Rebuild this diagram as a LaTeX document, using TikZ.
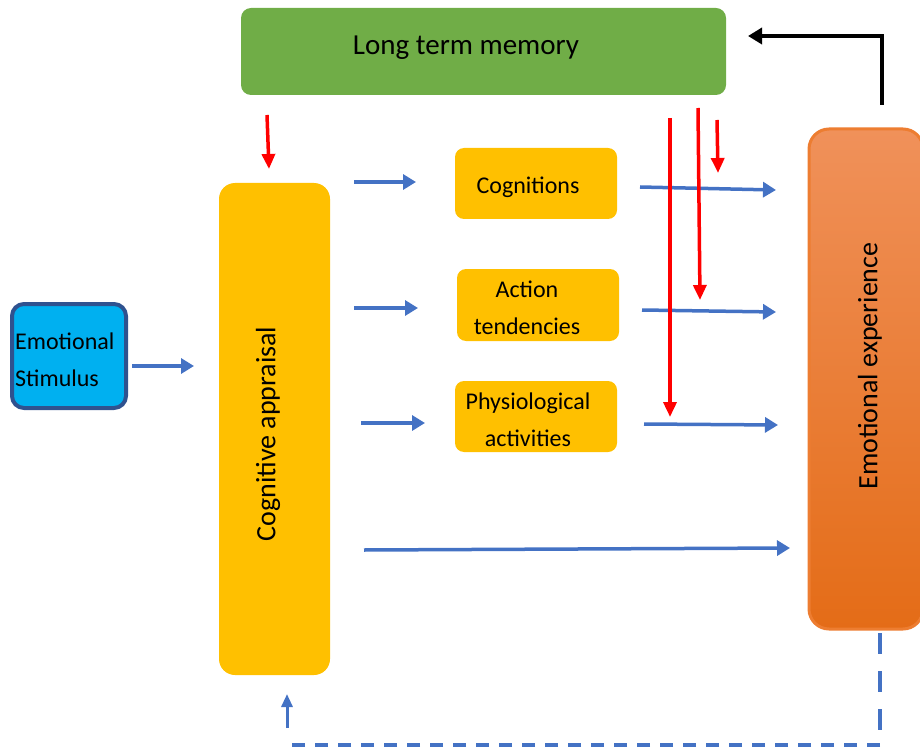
\documentclass[tikz,border=0pt]{standalone}
\usepackage{fontspec}
\setmainfont{Carlito}
\usetikzlibrary{arrows.meta}
\definecolor{ltmgreen}{HTML}{70AD47}
\definecolor{appyellow}{HTML}{FFC000}
\definecolor{arrblue}{HTML}{4472C4}
\definecolor{stimblue}{HTML}{00B0F0}
\definecolor{stimborder}{HTML}{2F528F}
\definecolor{eetop}{HTML}{F0915A}
\definecolor{eebot}{HTML}{E46C17}
\definecolor{eeborder}{HTML}{ED7D31}
\tikzset{
  boxshape/.style={rectangle, inner sep=0pt, outer sep=0pt},
  smalltext/.style={font=\fontsize{24}{37}\selectfont, inner sep=0pt, align=center},
  bigtext/.style={font=\fontsize{28}{34}\selectfont, inner sep=0pt},
  bluearrow/.style={draw=arrblue, line width=3.5pt, -{Triangle[length=13pt,width=15pt]}},
  redarrow/.style={draw=red, line width=3.5pt, -{Triangle[length=15pt,width=13pt]}},
  redline/.style={draw=red, line width=3.5pt},
  blackarrow/.style={draw=black, line width=4pt, -{Triangle[length=14pt,width=16pt]}},
}
\begin{document}
\begin{tikzpicture}[x=1pt,y=-1pt]
\useasboundingbox (0,0) rectangle (920,751);
\clip (0,0) rectangle (920,751);

% boxes
\node[boxshape, fill=ltmgreen, rounded corners=10pt, minimum width=485pt, minimum height=87pt] (ltm) at (483.5,51.5) {};
\node[inner sep=0pt, font=\fontsize{29}{35}\selectfont] (ltmtext) at (466,48) {Long term memory};

\node[boxshape, fill=stimblue, draw=stimborder, line width=4pt, rounded corners=12pt, minimum width=114pt, minimum height=104pt] (stim) at (69,356) {};
\node[smalltext, align=left, anchor=west] (stimtext) at (15,359.5) {Emotional\\Stimulus};

\node[boxshape, fill=appyellow, rounded corners=16pt, minimum width=111pt, minimum height=492pt] (app) at (274.5,429) {};
\node[bigtext, rotate=90] (apptext) at (268,434) {Cognitive appraisal};

\node[boxshape, fill=appyellow, rounded corners=9pt, minimum width=162pt, minimum height=71pt] (cog) at (536,183.5) {};
\node[smalltext] (cogtext) at (528,187) {Cognitions};

\node[boxshape, fill=appyellow, rounded corners=9pt, minimum width=162pt, minimum height=72pt] (act) at (538,305) {};
\node[smalltext] (acttext) at (527,307.5) {Action\\tendencies};

\node[boxshape, fill=appyellow, rounded corners=9pt, minimum width=162pt, minimum height=71pt] (phys) at (536,416.5) {};
\node[smalltext] (physspace) at (528,420) {Physiological\\activities};

\node[boxshape, top color=eetop, bottom color=eebot, draw=eeborder, line width=3pt, rounded corners=20pt, minimum width=114pt, minimum height=500pt] (ee) at (866,379) {};
\node[bigtext, rotate=90] (eetext) at (870,366) {Emotional experience};

% free arrow ends
\coordinate (s1) at (132,366); \coordinate (s2) at (194,366);
\coordinate (c1) at (354,182); \coordinate (c2) at (416,182);
\coordinate (a1) at (354,308); \coordinate (a2) at (418,308);
\coordinate (p1) at (361,423); \coordinate (p2) at (425,423);
\coordinate (co1) at (640,187); \coordinate (co2) at (776,190);
\coordinate (ao1) at (642,310); \coordinate (ao2) at (776,312);
\coordinate (po1) at (644,424); \coordinate (po2) at (778,425);
\coordinate (b1) at (364,550); \coordinate (b2) at (790,548);

\draw[bluearrow] (s1) -- (s2);
\draw[bluearrow] (c1) -- (c2);
\draw[bluearrow] (a1) -- (a2);
\draw[bluearrow] (p1) -- (p2);
\draw[bluearrow] (co1) -- (co2);
\draw[bluearrow] (ao1) -- (ao2);
\draw[bluearrow] (po1) -- (po2);
\draw[bluearrow] (b1) -- (b2);

% red arrows
\coordinate (r1a) at (267,115); \coordinate (r1b) at (269,169);
\coordinate (r2a) at (670,118); \coordinate (r2b) at (670,417);
\coordinate (r3a) at (698,108); \coordinate (r3b) at (700,300);
\coordinate (r4a) at (717,120); \coordinate (r4b) at (718,173);
\draw[redarrow] (r1a) -- (r1b);
\draw[redarrow] (r2a) -- (r2b);
\draw[redarrow] (r3a) -- (r3b);
\draw[redarrow] (r4a) -- (r4b);

% black feedback arrow
\coordinate (k1) at (882,105); \coordinate (k2) at (882,36); \coordinate (k3) at (748,36);
\draw[blackarrow] (k1) -- (k2) -- (k3);

% dashed feedback
\coordinate (d1) at (880,633); \coordinate (d2) at (880,745); \coordinate (d3) at (287,745);
\coordinate (d4) at (287,728); \coordinate (d5) at (287,694);
\draw[draw=arrblue, line width=4.5pt, dash pattern=on 21pt off 17pt] (d1) -- (d2);
\draw[draw=arrblue, line width=4.5pt, dash pattern=on 13pt off 10pt] (d2) -- (d3);
\draw[draw=arrblue, line width=3pt, -{Triangle[length=13pt,width=11pt]}] (d4) -- (d5);
\end{tikzpicture}
\end{document}
